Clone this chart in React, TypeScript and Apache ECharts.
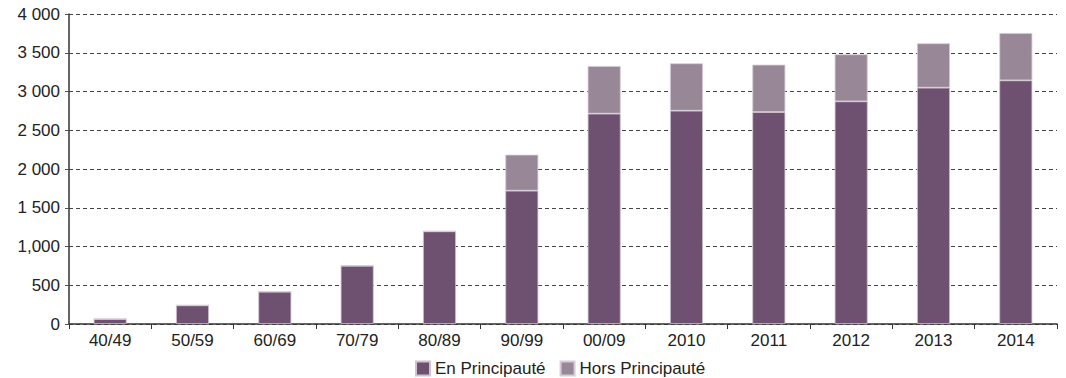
import React, { useEffect, useRef } from "react";
import * as echarts from "echarts";

const categories = ["40/49", "50/59", "60/69", "70/79", "80/89", "90/99", "00/09", "2010", "2011", "2012", "2013", "2014"];
const enPrincipaute = [65, 241, 417, 752, 1196, 1720, 2714, 2752, 2735, 2873, 3049, 3144];
const horsPrincipaute = [0, 0, 0, 0, 0, 465, 615, 612, 611, 607, 573, 611];
const yTickLabels: Record<number, string> = {
  0: "0", 500: "500", 1000: "1,000", 1500: "1 500", 2000: "2 000",
  2500: "2 500", 3000: "3 000", 3500: "3 500", 4000: "4 000",
};

const FONT = "'Liberation Sans', Arial, sans-serif";

export default function App() {
  const ref = useRef<HTMLDivElement>(null);
  useEffect(() => {
    if (!ref.current) return;
    const chart = echarts.init(ref.current, undefined, { renderer: "svg" });
    chart.setOption({
      animation: false,
      textStyle: { fontFamily: FONT },
      grid: { left: 69, right: 9, top: 14, bottom: 54, containLabel: false },
      legend: {
        top: 360,
        left: 415,
        padding: 0,
        itemWidth: 14,
        itemHeight: 14,
        itemGap: 14,
        icon: "rect",
        textStyle: { fontFamily: FONT, fontSize: 17, color: "#222", padding: [0, 0, 0, 0] },
        data: ["En Principauté", "Hors Principauté"],
      },
      xAxis: {
        type: "category",
        data: categories,
        axisLine: { lineStyle: { color: "#333", width: 1.5 } },
        axisTick: { show: true, length: 5, alignWithLabel: false, lineStyle: { color: "#333" } },
        axisLabel: { fontFamily: FONT, fontSize: 17, color: "#222", margin: 8 },
      },
      yAxis: {
        type: "value",
        min: 0,
        max: 4000,
        interval: 500,
        axisLine: { show: true, lineStyle: { color: "#333", width: 1.5 } },
        axisTick: { show: true, length: 4, lineStyle: { color: "#555" } },
        splitLine: { lineStyle: { color: "#444", type: [4, 3], width: 1 } },
        axisLabel: {
          fontFamily: FONT,
          fontSize: 17,
          color: "#222",
          margin: 9,
          formatter: (v: number) => yTickLabels[v] ?? String(v),
        },
      },
      series: [
        {
          name: "En Principauté",
          type: "bar",
          stack: "total",
          barWidth: 33,
          data: enPrincipaute,
          itemStyle: { color: "#6e5170", borderColor: "#cfc4ce", borderWidth: 0.8 },
        },
        {
          name: "Hors Principauté",
          type: "bar",
          stack: "total",
          barWidth: 33,
          data: horsPrincipaute,
          itemStyle: { color: "#988897", borderColor: "#d6ccd5", borderWidth: 0.8 },
        },
      ],
    });
    return () => chart.dispose();
  }, []);
  return <div ref={ref} style={{ width: 1066, height: 378, marginLeft: -8, marginTop: -8 }} />;
}
